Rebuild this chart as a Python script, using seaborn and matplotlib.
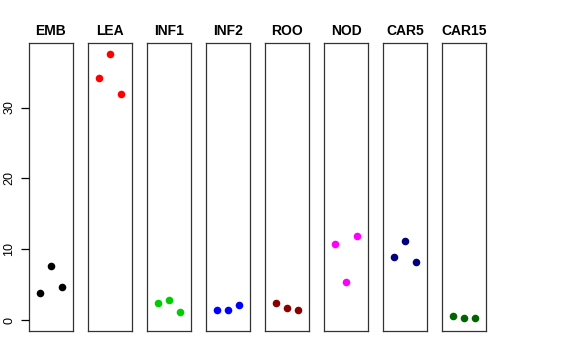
import pandas as pd
import numpy as np
import seaborn as sns
import matplotlib.pyplot as plt

plt.rcParams['font.family'] = ['Liberation Sans', 'DejaVu Sans']
plt.rcParams['axes.axisbelow'] = False

# groups, colours and the three values per group (left, middle, right)
groups = ["EMB", "LEA", "INF1", "INF2", "ROO", "NOD", "CAR5", "CAR15"]
colors = ["black", "red", "#00CD00", "blue", "#8B0000", "magenta", "#000080", "#006400"]
positions = [1, 2, 3]
emb = [3.9, 7.7, 4.7]
lea = [34.2, 37.6, 31.9]
inf1 = [2.5, 2.9, 1.2]
inf2 = [1.4, 1.5, 2.1]
roo = [2.4, 1.8, 1.4]
nod = [10.7, 5.4, 11.9]
car5 = [8.9, 11.2, 8.2]
car15 = [0.6, 0.4, 0.4]
values = [emb, lea, inf1, inf2, roo, nod, car5, car15]

df = pd.DataFrame({
    "group": np.repeat(groups, 3),
    "pos": positions * len(groups),
    "value": np.concatenate(values),
})

fig, axes = plt.subplots(1, 8, figsize=(5.76, 3.6), dpi=100)
fig.subplots_adjust(left=29/576, right=486/576, top=1 - 43/360, bottom=1 - 331/360,
                    wspace=15/44)

for i, (ax, g, c) in enumerate(zip(axes, groups, colors)):
    sub = df[df["group"] == g]
    sns.scatterplot(data=sub, x="pos", y="value", color=c, s=30, linewidth=0, ax=ax)
    ax.set_xlim(0, 4)
    ax.set_ylim(-1.5, 39.1)
    ax.set_xticks([])
    ax.set_xlabel("")
    ax.set_ylabel("")
    ax.set_title(g, fontsize=10, fontweight="bold", pad=6, color="black")
    for sp in ax.spines.values():
        sp.set_color("#333333")
        sp.set_linewidth(0.9)
    if i == 0:
        ax.set_yticks([0, 10, 20, 30])
        ax.tick_params(axis="y", length=6, width=0.9, pad=4,
                       labelsize=9, labelrotation=90, colors="black")
        for lbl in ax.get_yticklabels():
            lbl.set_verticalalignment("center")
    else:
        ax.set_yticks([])

fig.savefig("out.png", dpi=100)
